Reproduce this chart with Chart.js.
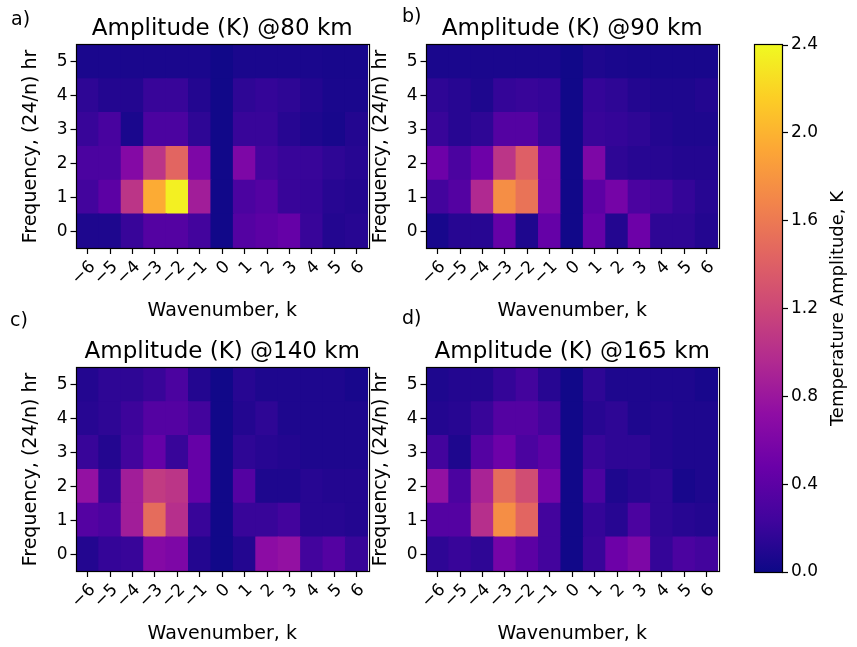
<!DOCTYPE html>
<html>
<head>
<meta charset="utf-8">
<script src="https://cdn.jsdelivr.net/npm/chart.js@4.4.0/dist/chart.umd.min.js"></script>
<style>
    body { margin: 0; background: #fff; }
    #page { position: relative; width: 857px; height: 647px; overflow: hidden; font-family: 'DejaVu Sans', sans-serif; }
    .panel { position: absolute; }
    .tag { position: absolute; font-size: 19px; line-height: 1; color: #000; }
</style>
</head>
<body>
<div id="page">
    <div class="panel" style="left:0;top:0;width:380px;height:326px"><canvas id="amp-80"></canvas></div>
    <div class="panel" style="left:350px;top:0;width:380px;height:326px"><canvas id="amp-90"></canvas></div>
    <div class="panel" style="left:0;top:323px;width:380px;height:326px"><canvas id="amp-140"></canvas></div>
    <div class="panel" style="left:350px;top:323px;width:380px;height:326px"><canvas id="amp-165"></canvas></div>
    <div class="panel" style="left:740px;top:0;width:117px;height:647px"><canvas id="colorbar"></canvas></div>
    <div class="tag" style="left:11px;top:9px">a)</div>
    <div class="tag" style="left:402px;top:6px">b)</div>
    <div class="tag" style="left:10px;top:310px">c)</div>
    <div class="tag" style="left:402px;top:308px">d)</div>
</div>
<script>
// zonal wavenumbers and frequencies (cycles per day)
const kLabels = ['\u22126', '\u22125', '\u22124', '\u22123', '\u22122', '\u22121', '0', '1', '2', '3', '4', '5', '6'];
const freqs = [0, 1, 2, 3, 4, 5];
const cbTicks = [0, 0.4, 0.8, 1.2, 1.6, 2.0, 2.4];
const ampMax = 2.4;

// amplitudes in K, one row per frequency (0 .. 5), columns k = -6 .. 6
const amp80 = [
    [0.08, 0.08, 0.20, 0.35, 0.35, 0.25, 0.02, 0.35, 0.40, 0.45, 0.20, 0.10, 0.12],
    [0.25, 0.40, 1.05, 1.95, 2.35, 0.85, 0.02, 0.30, 0.35, 0.20, 0.18, 0.12, 0.10],
    [0.30, 0.30, 0.65, 1.05, 1.45, 0.60, 0.02, 0.60, 0.25, 0.20, 0.20, 0.15, 0.12],
    [0.20, 0.28, 0.06, 0.30, 0.30, 0.15, 0.02, 0.20, 0.20, 0.12, 0.08, 0.05, 0.10],
    [0.15, 0.10, 0.10, 0.20, 0.20, 0.10, 0.02, 0.15, 0.18, 0.15, 0.10, 0.06, 0.06],
    [0.06, 0.06, 0.06, 0.06, 0.06, 0.06, 0.02, 0.06, 0.06, 0.06, 0.06, 0.05, 0.05]
];
const amp90 = [
    [0.05, 0.12, 0.12, 0.45, 0.08, 0.45, 0.02, 0.45, 0.10, 0.50, 0.15, 0.15, 0.10],
    [0.25, 0.35, 0.95, 1.75, 1.55, 0.60, 0.02, 0.40, 0.55, 0.30, 0.25, 0.18, 0.12],
    [0.50, 0.30, 0.50, 1.05, 1.40, 0.60, 0.02, 0.60, 0.15, 0.12, 0.12, 0.10, 0.10],
    [0.20, 0.12, 0.15, 0.35, 0.35, 0.20, 0.02, 0.20, 0.18, 0.15, 0.10, 0.08, 0.08],
    [0.15, 0.12, 0.08, 0.18, 0.20, 0.18, 0.02, 0.18, 0.15, 0.10, 0.08, 0.08, 0.10],
    [0.06, 0.06, 0.06, 0.06, 0.06, 0.06, 0.02, 0.08, 0.06, 0.05, 0.05, 0.05, 0.05]
];
const amp140 = [
    [0.10, 0.18, 0.20, 0.65, 0.60, 0.10, 0.02, 0.10, 0.70, 0.75, 0.25, 0.35, 0.20],
    [0.35, 0.30, 0.85, 1.50, 1.00, 0.20, 0.02, 0.20, 0.20, 0.25, 0.12, 0.12, 0.10],
    [0.75, 0.18, 0.85, 1.10, 1.05, 0.45, 0.02, 0.35, 0.08, 0.08, 0.12, 0.10, 0.10],
    [0.20, 0.10, 0.25, 0.45, 0.20, 0.45, 0.02, 0.15, 0.12, 0.10, 0.08, 0.08, 0.08],
    [0.12, 0.15, 0.22, 0.35, 0.35, 0.25, 0.02, 0.10, 0.15, 0.08, 0.08, 0.08, 0.08],
    [0.10, 0.15, 0.15, 0.20, 0.30, 0.10, 0.02, 0.12, 0.08, 0.08, 0.08, 0.08, 0.05]
];
const amp165 = [
    [0.15, 0.20, 0.15, 0.55, 0.40, 0.25, 0.02, 0.20, 0.50, 0.60, 0.18, 0.30, 0.25],
    [0.35, 0.35, 1.00, 1.75, 1.45, 0.25, 0.02, 0.18, 0.12, 0.30, 0.15, 0.12, 0.10],
    [0.75, 0.30, 0.90, 1.50, 1.25, 0.55, 0.02, 0.30, 0.08, 0.12, 0.15, 0.05, 0.08],
    [0.25, 0.08, 0.35, 0.50, 0.30, 0.40, 0.02, 0.20, 0.15, 0.15, 0.10, 0.08, 0.08],
    [0.10, 0.12, 0.20, 0.35, 0.35, 0.25, 0.02, 0.12, 0.15, 0.08, 0.10, 0.08, 0.08],
    [0.08, 0.10, 0.10, 0.18, 0.25, 0.12, 0.02, 0.15, 0.08, 0.08, 0.08, 0.08, 0.05]
];

// plasma colormap, 11 evenly spaced stops
const plasma = [
    [13, 8, 135], [65, 4, 157], [106, 0, 168], [143, 13, 164], [177, 42, 144],
    [204, 71, 120], [225, 100, 98], [242, 132, 75], [252, 166, 54], [252, 206, 37], [240, 249, 33]
];

function plasmaColor(v) {
    const t = Math.max(0, Math.min(1, v / ampMax)) * (plasma.length - 1);
    const i = Math.min(Math.floor(t), plasma.length - 2);
    const f = t - i;
    const c = plasma[i].map((a, j) => Math.round(a + (plasma[i + 1][j] - a) * f));
    return `rgb(${c[0]},${c[1]},${c[2]})`;
}

Chart.defaults.font.family = "'DejaVu Sans', sans-serif";
Chart.defaults.color = '#000';

// frame around the plot area plus a title centred over it
const panelDecor = {
    id: 'panelDecor',
    afterDraw(chart, args, opts) {
        const {ctx, chartArea: a} = chart;
        ctx.save();
        ctx.strokeStyle = '#000';
        ctx.lineWidth = 1.2;
        ctx.strokeRect(Math.round(a.left) - 0.5, Math.round(a.top) - 0.5,
            Math.round(a.right - a.left) + 1, Math.round(a.bottom - a.top) + 1);
        if (opts.title) {
            ctx.fillStyle = '#000';
            ctx.font = opts.font;
            ctx.textAlign = 'center';
            ctx.textBaseline = 'middle';
            ctx.fillText(opts.title, (a.left + a.right) / 2, a.top - opts.gap);
        }
        ctx.restore();
    }
};

function drawAmplitudePanel(canvasId, title, amplitudes) {
    const datasets = freqs.map((f, row) => ({
        data: kLabels.map(() => [f - 0.5, f + 0.5]),
        backgroundColor: amplitudes[row].map(plasmaColor),
        borderWidth: 0,
        inflateAmount: 0.6,
        grouped: false,
        barPercentage: 1,
        categoryPercentage: 1
    }));

    const chartConfig = {
        type: 'bar',
        data: {labels: kLabels, datasets: datasets},
        plugins: [panelDecor],
        options: {
            animation: false,
            responsive: true,
            maintainAspectRatio: false,
            layout: {padding: {top: 45, right: 12, left: 16, bottom: 0}},
            scales: {
                x: {
                    grid: {display: true, drawOnChartArea: false, offset: false, color: '#000', tickLength: 6, tickWidth: 1.2},
                    border: {display: false},
                    ticks: {minRotation: 45, maxRotation: 45, autoSkip: false, padding: 3, labelOffset: 5, font: {size: 17}},
                    title: {display: true, text: 'Wavenumber, k', font: {size: 19}, padding: {top: 4, bottom: 4}},
                    afterFit: (scale) => { scale.height = 78; }
                },
                y: {
                    min: -0.5,
                    max: 5.5,
                    afterBuildTicks: (scale) => { scale.ticks = freqs.map((v) => ({value: v})); },
                    grid: {display: true, drawOnChartArea: false, color: '#000', tickLength: 6, tickWidth: 1.2},
                    border: {display: false},
                    ticks: {padding: 3, font: {size: 17}},
                    title: {display: true, text: 'Frequency, (24/n) hr', font: {size: 19}, padding: {top: 4, bottom: 4}},
                    afterFit: (scale) => { scale.width = 60.5; }
                }
            },
            plugins: {
                legend: {display: false},
                tooltip: {enabled: false},
                panelDecor: {title: title, font: "23px 'DejaVu Sans'", gap: 16}
            }
        }
    };

    new Chart(document.querySelector('#' + canvasId), chartConfig);
}

drawAmplitudePanel('amp-80', 'Amplitude (K) @80 km', amp80);
drawAmplitudePanel('amp-90', 'Amplitude (K) @90 km', amp90);
drawAmplitudePanel('amp-140', 'Amplitude (K) @140 km', amp140);
drawAmplitudePanel('amp-165', 'Amplitude (K) @165 km', amp165);

// shared colour scale
const colorbarFill = {
    id: 'colorbarFill',
    beforeDatasetsDraw(chart) {
        const {ctx, chartArea: a} = chart;
        const grad = ctx.createLinearGradient(0, a.bottom, 0, a.top);
        plasma.forEach((c, i) => grad.addColorStop(i / (plasma.length - 1), `rgb(${c[0]},${c[1]},${c[2]})`));
        ctx.save();
        ctx.fillStyle = grad;
        ctx.fillRect(a.left, a.top, a.right - a.left, a.bottom - a.top);
        ctx.restore();
    },
    afterDraw(chart) {
        const {ctx, chartArea: a} = chart;
        ctx.save();
        ctx.strokeStyle = '#000';
        ctx.lineWidth = 1.2;
        ctx.strokeRect(Math.round(a.left) - 0.5, Math.round(a.top) - 0.5,
            Math.round(a.right - a.left) + 1, Math.round(a.bottom - a.top) + 1);
        ctx.translate(98, (a.top + a.bottom) / 2);
        ctx.rotate(-Math.PI / 2);
        ctx.fillStyle = '#000';
        ctx.font = "18px 'DejaVu Sans'";
        ctx.textAlign = 'center';
        ctx.textBaseline = 'middle';
        ctx.fillText('Temperature Amplitude, K', 0, 0);
        ctx.restore();
    }
};

new Chart(document.querySelector('#colorbar'), {
    type: 'bar',
    data: {labels: [''], datasets: []},
    plugins: [colorbarFill],
    options: {
        animation: false,
        responsive: true,
        maintainAspectRatio: false,
        layout: {padding: {top: 45, bottom: 75, left: 15, right: 0}},
        scales: {
            x: {display: false},
            y: {
                position: 'right',
                min: 0,
                max: ampMax,
                afterBuildTicks: (scale) => { scale.ticks = cbTicks.map((v) => ({value: v})); },
                grid: {display: true, drawOnChartArea: false, color: '#000', tickLength: 6, tickWidth: 1.2},
                border: {display: false},
                ticks: {padding: 3, font: {size: 17}, callback: (v) => Number(v).toFixed(1)},
                afterFit: (scale) => { scale.width = 75; }
            }
        },
        plugins: {legend: {display: false}, tooltip: {enabled: false}}
    }
});
</script>
</body>
</html>
